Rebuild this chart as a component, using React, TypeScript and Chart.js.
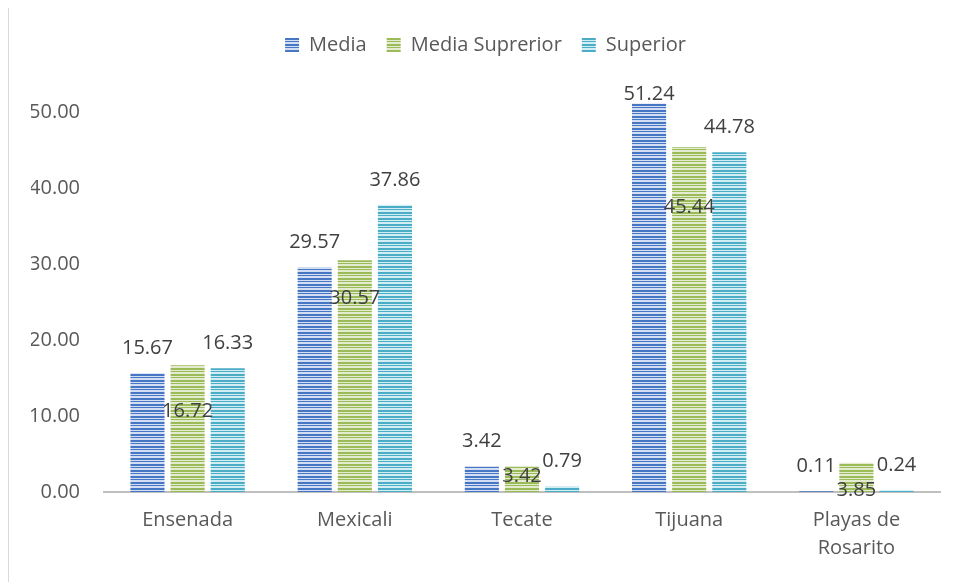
import React, { useEffect, useRef } from "react";
import { Chart, registerables } from "chart.js";

Chart.register(...registerables);

const categories: (string | string[])[] = ["Ensenada", "Mexicali", "Tecate", "Tijuana", ["Playas de", "Rosarito"]];
const mediaValues = [15.67, 29.57, 3.42, 51.24, 0.11];
const mediaSuperiorValues = [16.72, 30.57, 3.42, 45.44, 3.85];
const superiorValues = [16.33, 37.86, 0.79, 44.78, 0.24];
const seriesNames = ["Media", "Media Suprerior", "Superior"];
const yTicks = [0, 10, 20, 30, 40, 50];

// label placement styles (pixels)
const greenLabelDrop = [46, 38, 10, 60, 27];
const FONT = "'Open Sans', sans-serif";

function makePattern(dark: string, light: string): CanvasPattern | string {
  const c = document.createElement("canvas");
  c.width = 4;
  c.height = 6;
  const g = c.getContext("2d");
  if (!g) return dark;
  const rows = [dark, dark, light, dark, light, light];
  rows.forEach((col, i) => {
    g.fillStyle = col;
    g.fillRect(0, i, 4, 1);
  });
  const p = g.createPattern(c, "repeat");
  return p || dark;
}

const labelPlugin = {
  id: "valueLabels",
  afterDatasetsDraw(chart: any) {
    const ctx = chart.ctx;
    const area = chart.chartArea;
    ctx.save();
    ctx.font = `20px ${FONT}`;
    ctx.fillStyle = "#404040";
    ctx.textAlign = "center";
    ctx.textBaseline = "middle";
    chart.data.datasets.forEach((ds: any, di: number) => {
      const meta = chart.getDatasetMeta(di);
      meta.data.forEach((bar: any, i: number) => {
        const v = ds.data[i];
        const text = v.toFixed(2);
        let y: number;
        if (di === 1) {
          y = bar.y + greenLabelDrop[i];
        } else {
          y = Math.max(bar.y - 25, area.top + 29);
        }
        ctx.fillText(text, bar.x, y);
      });
    });
    ctx.restore();
  },
};

export default function App() {
  const ref = useRef<HTMLCanvasElement | null>(null);
  useEffect(() => {
    document.body.style.overflow = "hidden";
    const canvas = ref.current;
    if (!canvas) return;
    const blue = makePattern("#4677c4", "#d3def2");
    const green = makePattern("#9bbb59", "#e3ecd0");
    const cyan = makePattern("#4bacc6", "#d3edf4");
    const chart = new Chart(canvas, {
      type: "bar",
      data: {
        labels: categories,
        datasets: [
          { label: seriesNames[0], data: mediaValues, backgroundColor: blue as any, borderWidth: 0 },
          { label: seriesNames[1], data: mediaSuperiorValues, backgroundColor: green as any, borderWidth: 0 },
          { label: seriesNames[2], data: superiorValues, backgroundColor: cyan as any, borderWidth: 0 },
        ],
      },
      options: {
        responsive: false,
        animation: false,
        layout: { padding: { top: 7, left: 22, right: 15, bottom: 0 } },
        datasets: { bar: { categoryPercentage: 0.72, barPercentage: 0.85 } },
        plugins: {
          tooltip: { enabled: false },
          legend: {
            position: "top",
            labels: {
              boxWidth: 14,
              boxHeight: 14,
              padding: 20,
              color: "#595959",
              font: { family: FONT, size: 20 },
            },
          },
        },
        scales: {
          x: {
            grid: { display: false, drawTicks: false },
            border: { display: true, color: "#bfbfbf", width: 2 },
            ticks: {
              color: "#595959",
              padding: 14,
              maxRotation: 0,
              autoSkip: false,
              font: { family: FONT, size: 20, lineHeight: 1.4 },
            },
            afterFit(scale: any) {
              scale.height = 90;
            },
          },
          y: {
            min: 0,
            max: 56.3,
            grid: { display: false, drawTicks: false },
            border: { display: false },
            ticks: {
              color: "#595959",
              padding: 24,
              font: { family: FONT, size: 20 },
              callback: (v: any) => Number(v).toFixed(2),
            },
            afterBuildTicks(scale: any) {
              scale.ticks = yTicks.map((v) => ({ value: v }));
            },
            afterFit(scale: any) {
              scale.width = 73;
            },
          },
        },
      },
      plugins: [labelPlugin],
    });
    return () => chart.destroy();
  }, []);
  return (
    <div
      style={{
        width: 960,
        height: 600,
        marginTop: -1,
        border: "1px solid #d9d9d9",
        boxSizing: "border-box",
        background: "#fff",
      }}
    >
      <canvas ref={ref} width={946} height={574} style={{ display: "block" }} />
    </div>
  );
}
